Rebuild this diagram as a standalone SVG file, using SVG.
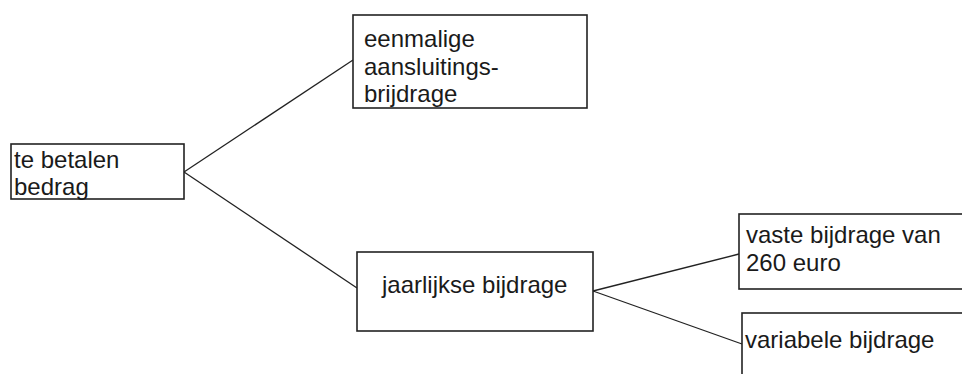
<svg xmlns="http://www.w3.org/2000/svg" width="962" height="374" viewBox="0 0 962 374">
<style>
.box{fill:#fff;stroke:#222;stroke-width:1.6}
.t{font-family:"Liberation Sans",Arial,sans-serif;font-size:24px;fill:#1a1a1a}
.c{stroke:#222;stroke-width:1.3;fill:none}
</style>
<rect x="0" y="0" width="962" height="374" fill="#fff"/>
<g id="connectors">
<line class="c" x1="184" y1="172" x2="353" y2="60"/>
<line class="c" x1="184" y1="172" x2="357" y2="288"/>
<line class="c" x1="593" y1="291" x2="739" y2="254"/>
<line class="c" x1="593" y1="291" x2="742" y2="344"/>
</g>
<g id="node-te-betalen-bedrag">
<rect class="box" x="11" y="144" width="173" height="55"/>
<text class="t" x="14" y="168">te betalen</text>
<text class="t" x="14" y="195">bedrag</text>
</g>
<g id="node-eenmalige">
<rect class="box" x="353" y="15" width="234" height="93"/>
<text class="t" x="364" y="47">eenmalige</text>
<text class="t" x="364" y="75">aansluitings-</text>
<text class="t" x="364" y="102">brijdrage</text>
</g>
<g id="node-jaarlijkse">
<rect class="box" x="357" y="252" width="236" height="79"/>
<text class="t" x="382" y="293">jaarlijkse bijdrage</text>
</g>
<g id="node-vaste">
<rect class="box" x="739" y="214" width="240" height="75"/>
<text class="t" x="746" y="243">vaste bijdrage van</text>
<text class="t" x="746" y="271">260 euro</text>
</g>
<g id="node-variabele">
<rect class="box" x="742" y="313" width="240" height="80"/>
<text class="t" x="745" y="348">variabele bijdrage</text>
</g>
</svg>
